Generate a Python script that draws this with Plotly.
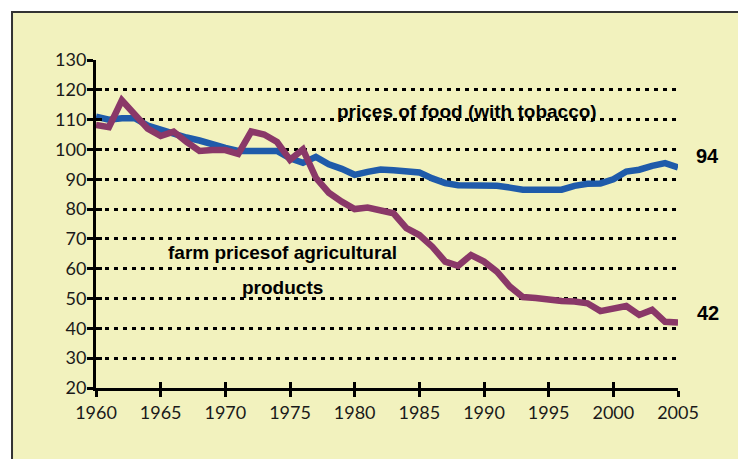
import plotly.graph_objects as go

# Years 1960-2005
years = list(range(1960, 2006))

# Index of food prices (with tobacco)
food_prices = [
    111, 110, 110.5, 110.5, 108, 106.5, 105.5, 104, 103, 101.5,
    100.5, 99.5, 99.5, 99.5, 99.5, 97, 95.5, 97.5, 95, 93.5,
    91.5, 92.5, 93.3, 93, 92.8, 92.3, 90.3, 88.7, 88, 88,
    88, 87.8, 87.2, 86.5, 86.5, 86.5, 86.5, 87.8, 88.5, 88.6,
    90, 92.6, 93.2, 94.5, 95.4, 94,
]

# Index of farm prices of agricultural products
farm_prices = [
    108.2, 107.5, 116.5, 112, 107, 104.5, 106, 102.5, 99.5, 99.8,
    99.8, 98.5, 106, 105, 102.5, 96.5, 100, 90.5, 85.5, 82.5,
    80, 80.5, 79.4, 78.6, 73.6, 71.3, 67.4, 62.4, 61, 64.6,
    62.4, 59, 54, 50.5, 50.2, 49.5, 49.2, 49, 48.4, 45.8,
    46.5, 47.5, 44.5, 46.2, 42.2, 42,
]

x_ticks = list(range(1960, 2006, 5))
y_ticks = list(range(20, 131, 10))

BLUE = "#1F5BAA"
PURPLE = "#8A3868"
PANEL = "#F2F2BE"
TICK_FONT = dict(family="Lato, 'DejaVu Sans', sans-serif", size=18, color="#1a1a1a")
BOLD_FONT = dict(family="'Liberation Sans Narrow', 'Liberation Sans', Arial, sans-serif",
                 size=19, color="black", weight="bold")

fig = go.Figure()

fig.add_trace(go.Scatter(x=years, y=food_prices, mode="lines",
                         line=dict(color=BLUE, width=6.5), hoverinfo="skip"))
fig.add_trace(go.Scatter(x=years, y=farm_prices, mode="lines",
                         line=dict(color=PURPLE, width=6.5), hoverinfo="skip"))
# invisible trace that keeps the overlay axes (inner tick halves) drawn
fig.add_trace(go.Scatter(x=[years[0]], y=[y_ticks[0]], mode="markers",
                         marker=dict(opacity=0), xaxis="x2", yaxis="y2",
                         hoverinfo="skip"))

x_rng = [1960, 2005]
y_rng = [20, 130]

fig.update_layout(
    width=738, height=459,
    margin=dict(l=96, r=60, t=60, b=71),
    paper_bgcolor="white",
    plot_bgcolor="rgba(0,0,0,0)",
    showlegend=False,
    xaxis=dict(range=x_rng, tickvals=x_ticks, ticks="outside", ticklen=6,
               tickwidth=2.5, tickcolor="black", showline=True, linecolor="black",
               linewidth=3, showgrid=False, zeroline=False, tickfont=TICK_FONT),
    yaxis=dict(range=y_rng, tickvals=y_ticks, ticks="outside", ticklen=6,
               tickwidth=2.5, tickcolor="black", showline=True, linecolor="black",
               linewidth=3, showgrid=True, gridcolor="black", gridwidth=3,
               griddash="4px,5px", zeroline=False, tickfont=TICK_FONT,
               ticklabelstandoff=-3),
    xaxis2=dict(range=x_rng, tickvals=x_ticks, overlaying="x", anchor="y2",
                side="bottom", ticks="inside", ticklen=6, tickwidth=2.5,
                tickcolor="black", showticklabels=False, showgrid=False,
                showline=False, zeroline=False),
    yaxis2=dict(range=y_rng, tickvals=y_ticks, overlaying="y", anchor="x2",
                side="left", ticks="inside", ticklen=6, tickwidth=2.5,
                tickcolor="black", showticklabels=False, showgrid=False,
                showline=False, zeroline=False),
)

# yellow panel with dark frame behind the chart
fig.add_shape(type="rect", xref="paper", yref="paper",
              x0=-0.1443, x1=1.11, y0=-0.23, y1=1.1463,
              fillcolor=PANEL, line=dict(color="#333333", width=2), layer="below")

# series captions inside the plot
captions = [
    dict(x=1988.7, y=112.6, text="prices of food (with tobacco)"),
    dict(x=1974.4, y=65.3, text="farm pricesof agricultural"),
    dict(x=1974.4, y=53.6, text="products"),
]
for a in captions:
    fig.add_annotation(x=a["x"], y=a["y"], xref="x", yref="y", text=a["text"],
                       showarrow=False, font=BOLD_FONT, xanchor="center",
                       yanchor="middle")

# end-of-series values, placed just right of the plot area
BIG_FONT = dict(BOLD_FONT, size=20)
for val, dy in ((food_prices[-1], 3.8), (farm_prices[-1], 3.2)):
    fig.add_annotation(x=1.0515, y=val + dy, xref="paper", yref="y",
                       text=f"{val:g}", showarrow=False, font=BIG_FONT,
                       xanchor="center", yanchor="middle")

fig.write_html("out.html")
